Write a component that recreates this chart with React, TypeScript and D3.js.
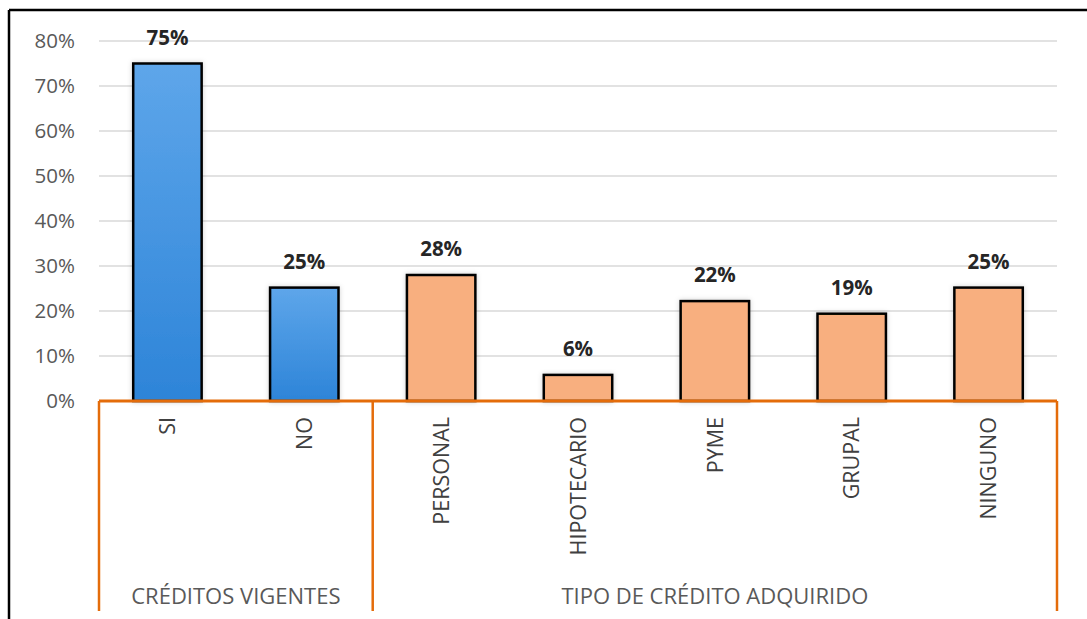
import React from 'react'
import * as d3 from 'd3'

const categories = ['SI', 'NO', 'PERSONAL', 'HIPOTECARIO', 'PYME', 'GRUPAL', 'NINGUNO']
const values = [75, 25.2, 28, 5.8, 22.2, 19.4, 25.2]
const valueLabels = ['75%', '25%', '28%', '6%', '22%', '19%', '25%']
const groupOf = [0, 0, 1, 1, 1, 1, 1]
const groups = ['CRÉDITOS VIGENTES', 'TIPO DE CRÉDITO ADQUIRIDO']
const yTicks = [0, 10, 20, 30, 40, 50, 60, 70, 80]

const width = 1087
const height = 619
const font = "'Open Sans', 'Noto Sans', sans-serif"

const App = () => {
  const left = 99
  const right = 1057
  const x = d3.scaleBand().domain(categories).range([left, right]).paddingInner(0.5).paddingOuter(0.25)
  const y = d3.scaleLinear().domain([0, 80]).range([401, 41])
  const axisColor = '#E46C0A'

  // group boundaries from the band scale
  const groupRanges = groups.map((g, gi) => {
    let idx = categories.map((c, i) => i).filter(i => groupOf[i] === gi)
    let step = x.step()
    let x0 = x(categories[idx[0]]) - step * 0.25
    let x1 = x(categories[idx[idx.length - 1]]) + x.bandwidth() + step * 0.25
    return { name: g, x0, x1 }
  })

  return (
    <svg width={width} height={height} style={{ position: 'absolute', left: 0, top: 0, background: '#fff' }}>
      <defs>
        <linearGradient id="blueGrad" x1="0" y1="0" x2="0" y2="1">
          <stop offset="0%" stopColor="#5EA6EA" />
          <stop offset="100%" stopColor="#2D84D8" />
        </linearGradient>
        <filter id="shadow" x="-20%" y="-20%" width="140%" height="140%">
          <feDropShadow dx="0" dy="0" stdDeviation="2.5" floodColor="#000" floodOpacity="0.18" />
        </filter>
      </defs>

      {/* outer frame */}
      <line x1={9} y1={10} x2={width} y2={10} stroke="#000" strokeWidth={2.5} />
      <line x1={9} y1={10} x2={9} y2={height} stroke="#000" strokeWidth={2.5} />

      {/* gridlines */}
      {yTicks.map(t => (
        <line key={'g' + t} x1={left} x2={right} y1={y(t)} y2={y(t)} stroke="#D9D9D9" strokeWidth={1.5} />
      ))}
      {yTicks.map(t => (
        <text key={'t' + t} x={75} y={y(t)} dy="0.36em" textAnchor="end"
          fontFamily={font} fontSize={20.5} fill="#595959">{t + '%'}</text>
      ))}

      {/* bars */}
      {categories.map((c, i) => (
        <rect key={c} x={x(c)} y={y(values[i])} width={x.bandwidth()} height={y(0) - y(values[i])}
          fill={groupOf[i] === 0 ? 'url(#blueGrad)' : '#F8AF7F'} stroke="#000" strokeWidth={2.5}
          filter="url(#shadow)" />
      ))}
      {categories.map((c, i) => (
        <text key={'v' + c} x={x(c) + x.bandwidth() / 2} y={y(values[i]) - 19} textAnchor="middle"
          fontFamily={font} fontSize={20.5} fontWeight="bold" fill="#262626">{valueLabels[i]}</text>
      ))}

      {/* category axis */}
      <line x1={left} x2={right} y1={y(0)} y2={y(0)} stroke={axisColor} strokeWidth={3} />
      {groupRanges.map((g, gi) => (
        <g key={g.name}>
          {gi === 0 && <line x1={g.x0} x2={g.x0} y1={y(0)} y2={611} stroke={axisColor} strokeWidth={2.5} />}
          <line x1={g.x1} x2={g.x1} y1={y(0)} y2={611} stroke={axisColor} strokeWidth={2.5} />
          <text x={(g.x0 + g.x1) / 2} y={604} textAnchor="middle" fontFamily={font} fontSize={22}
            fill="#595959">{g.name}</text>
        </g>
      ))}
      {categories.map(c => {
        let cx = x(c) + x.bandwidth() / 2
        return (
          <text key={'c' + c} transform={`translate(${cx},417) rotate(-90)`} dy="0.36em" textAnchor="end"
            fontFamily={font} fontSize={21.5} fill="#404040">{c}</text>
        )
      })}
    </svg>
  )
}

export default App
